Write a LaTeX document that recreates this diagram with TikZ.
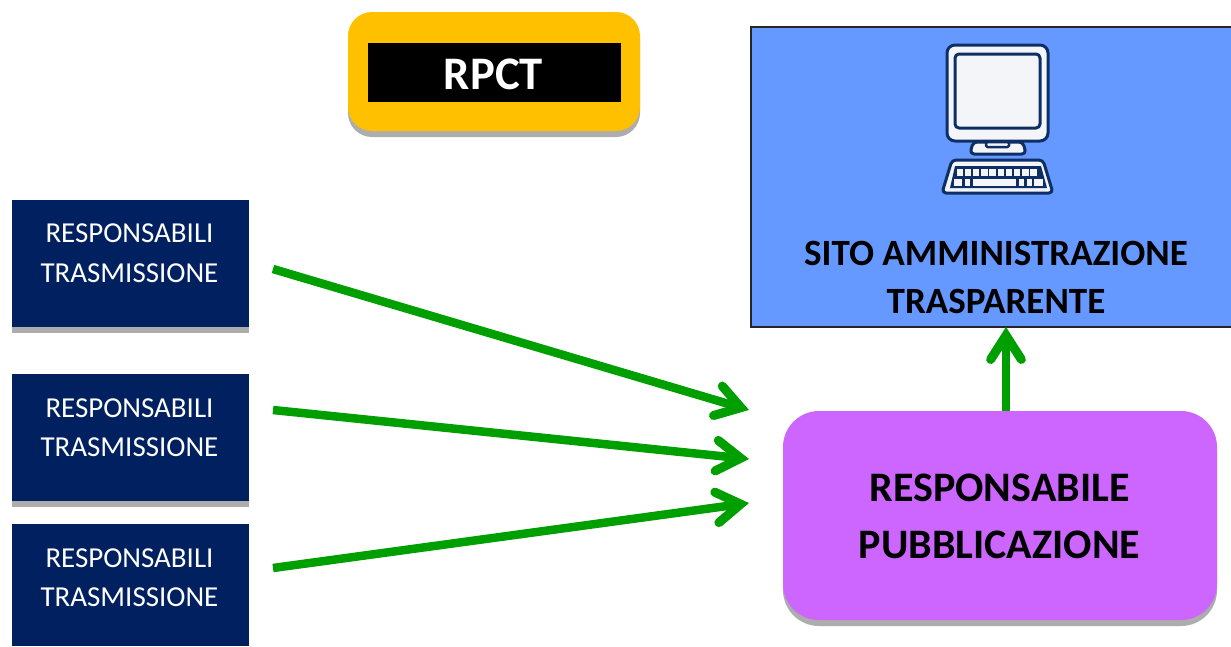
\documentclass[tikz,border=0pt]{standalone}
\usepackage{fontspec}
\setmainfont{Carlito}
\usetikzlibrary{arrows.meta,fit}
\definecolor{navyb}{HTML}{002060}
\definecolor{shadowg}{HTML}{ADADAD}
\definecolor{amber}{HTML}{FFC000}
\definecolor{lilac}{HTML}{CC66FF}
\definecolor{skyb}{HTML}{6699FF}
\definecolor{arrowg}{HTML}{009F00}
\definecolor{iconb}{HTML}{0E2F66}
\definecolor{iconw}{HTML}{F3F5F8}
\tikzset{
  x=0.75pt,y=-0.75pt,
  px/.style={line width=#1*0.75pt},
  plain/.style={inner sep=0pt,outer sep=0pt,rectangle},
  shadowbox/.style={plain,fill=shadowg},
  navybox/.style={plain,fill=navyb},
  amberbox/.style={plain,fill=amber,rounded corners=18pt},
  amberback/.style={plain,fill=shadowg,rounded corners=18pt},
  blackbox/.style={plain,fill=black},
  sitebox/.style={plain,fill=skyb,draw=black!85,px=1.2},
  lilacbox/.style={plain,fill=lilac,rounded corners=27pt},
  lilacback/.style={plain,fill=shadowg,rounded corners=27pt},
  navytext/.style={text=white,align=center,font=\fontsize{21.7pt}{29.6pt}\selectfont},
  boldtext/.style={text=black,align=center,font=\bfseries\fontsize{27pt}{36pt}\selectfont},
  flow/.style={draw=arrowg,px=8.5,-{Straight Barb[length=18pt,width=23pt,line cap=round,line join=miter,line width=6.8pt]}},
  iconline/.style={draw=iconb,fill=iconw,px=3,rounded corners=3pt,line join=round},
}
\begin{document}
\begin{tikzpicture}
\useasboundingbox (0,0) rectangle (1231,646);
% left boxes
\node[shadowbox,fit={(12,210)(249,333)}] (s1) {};
\node[navybox,fit={(12,200)(249,327)}] (r1) {};
\node[navytext] (t1) at (129.5,253) {RESPONSABILI\\TRASMISSIONE};
\node[shadowbox,fit={(12,384)(249,507)}] (s2) {};
\node[navybox,fit={(12,374)(249,501)}] (r2) {};
\node[navytext] (t2) at (129.5,427.5) {RESPONSABILI\\TRASMISSIONE};
\node[navybox,fit={(12,524)(249,646)}] (r3) {};
\node[navytext] (t3) at (129.5,577.5) {RESPONSABILI\\TRASMISSIONE};
% RPCT
\node[amberback,fit={(348,18)(640,137)}] (s4) {};
\node[amberbox,fit={(348,12)(640,131)}] (rpctback) {};
\node[blackbox,fit={(368,43)(621,102)}] (rpctinner) {};
\node[text=white,font=\bfseries\fontsize{35pt}{40pt}\selectfont] (rpct) at (493.5,74.5) {RPCT};
% site
\node[sitebox,fit={(751,27)(1233,327)}] (site) {};
\node[boldtext,font=\bfseries\fontsize{27.8pt}{36.5pt}\selectfont] (sitetext) at (996,277.5) {SITO AMMINISTRAZIONE\\TRASPARENTE};
% lilac
\node[lilacback,fit={(783,417)(1217,626)}] (s5) {};
\node[lilacbox,fit={(783,411)(1217,620)}] (pub) {};
\node[boldtext,font=\bfseries\fontsize{31.5pt}{42.5pt}\selectfont] (pubtext) at (999.5,516.5) {RESPONSABILE\\PUBBLICAZIONE};
% connector ends
\coordinate (a1) at (273,269);
\coordinate (b1) at (749,410);
\coordinate (a2) at (273,410);
\coordinate (b2) at (749,459);
\coordinate (a3) at (273,568);
\coordinate (b3) at (749,503);
\coordinate (up0) at (1006,411);
\coordinate (up1) at (1006,327);
\draw[flow] (a1) -- (b1);
\draw[flow] (a2) -- (b2);
\draw[flow] (a3) -- (b3);
\draw[flow] (up0) -- (up1);
% computer icon
\draw[iconline,rounded corners=6pt] (947,45) rectangle (1048,141);
\draw[iconline] (955,54) rectangle (1040,128);
\draw[iconline] (973,142) -- (1023,142) -- (1026,154) -- (970,154) -- cycle;
\draw[iconline,rounded corners=1pt,px=2.5] (986,142) rectangle (1009,147);
\draw[iconline] (952,160) -- (1043,160) -- (1053,193) -- (942,193) -- cycle;
\fill[iconb] (955,166) -- (1041,166) -- (1047,188) -- (950,188) -- cycle;
\foreach \k in {0,...,9} {
  \fill[iconw] ({956.5+8.2*\k},168.5) rectangle ({963+8.2*\k},176);
}
\foreach \a/\b in {954/962,965/970,972.5/1016,1018.5/1024,1026.5/1032,1034/1042.5} {
  \fill[iconw] (\a,179) rectangle (\b,186);
}
\end{tikzpicture}
\end{document}
